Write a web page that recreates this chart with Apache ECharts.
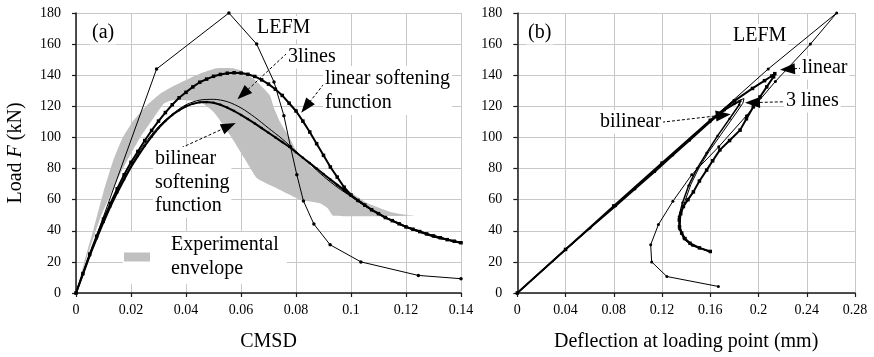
<!DOCTYPE html>
<html>
<head>
<meta charset="utf-8">
<script src="https://cdn.jsdelivr.net/npm/echarts@6/dist/echarts.min.js"></script>
<style>
  html, body { margin: 0; padding: 0; background: #fff; }
  #chart { width: 874px; height: 357px; }
</style>
</head>
<body>
<div id="chart"></div>
<script>
// ---- panel (a): load vs CMSD ----
const lefmAX = [0, 0.0293, 0.0556, 0.0657, 0.072, 0.0756, 0.078, 0.0803, 0.0827, 0.0865, 0.0924, 0.1036, 0.1245, 0.14];
const lefmAY = [0, 144, 180, 160, 135.7, 114, 94, 76, 59.2, 44.3, 31, 20, 11.3, 9.2];

const linAX = [0, 0.0025, 0.005, 0.0075, 0.01, 0.0125, 0.015, 0.0175, 0.02, 0.0225, 0.025, 0.0275, 0.03, 0.0325, 0.035, 0.0375,
  0.04, 0.0425, 0.045, 0.0475, 0.05, 0.0525, 0.055, 0.0575, 0.06, 0.0625, 0.065, 0.0675, 0.07, 0.0725, 0.075, 0.0775,
  0.08, 0.0825, 0.085, 0.0875, 0.09, 0.0925, 0.095, 0.0975, 0.1, 0.1025, 0.105, 0.1075, 0.11, 0.1125, 0.115, 0.1175,
  0.12, 0.1225, 0.125, 0.1275, 0.13, 0.1325, 0.135, 0.1375, 0.14];
const linAY = [0, 12.5, 25, 36.5, 47.5, 57.5, 67, 76, 84, 91, 98, 104.5, 110.5, 116, 121, 125.5,
  129, 132.5, 135.5, 137.5, 139.3, 140.5, 141.3, 141.6, 141.4, 140.6, 139.2, 137, 134.3, 131, 127, 122,
  117, 110.5, 103.5, 96, 88.5, 81, 74.5, 68, 63, 59.5, 56.5, 53.5, 51, 48.5, 46.5, 44.5,
  42.5, 41, 39.5, 38, 36.7, 35.5, 34.3, 33.3, 32.3];

const bilAX = linAX;
const bilAY = [0, 12, 24, 35, 45.5, 55.5, 64.5, 73, 81, 88, 94.5, 100.5, 106, 110.5, 114.5, 117.5,
  120, 121.7, 122.6, 122.8, 122.3, 121, 119.2, 117, 114.5, 111.8, 109, 106, 103, 100, 97, 94,
  90.5, 87, 83.5, 80, 76.5, 73, 69.5, 66, 62.7, 59.5, 56.5, 53.5, 51, 48.5, 46.5, 44.5,
  42.5, 41, 39.5, 38, 36.7, 35.5, 34.3, 33.3, 32.3];

const threeAX = [0, 0.005, 0.01, 0.015, 0.02, 0.025, 0.03, 0.035, 0.04, 0.045, 0.05, 0.055, 0.06, 0.065, 0.07,
  0.075, 0.08, 0.085, 0.09, 0.095, 0.1, 0.105, 0.11, 0.115, 0.12, 0.125, 0.13, 0.135, 0.14];
const threeAY = [0, 25, 46, 65, 82, 96, 107, 115, 121, 124, 124.5, 123, 119, 113, 106,
  99, 91, 83, 75, 68, 62, 56, 51, 46.5, 42.5, 39, 36, 34, 32];

// experimental envelope outline (upper edge then lower edge back to origin)
const envX = [0, 0.003, 0.0065, 0.01, 0.0135, 0.017, 0.021, 0.026, 0.031, 0.036, 0.04, 0.045, 0.051, 0.057, 0.06,
  0.0657, 0.0705, 0.072, 0.0742, 0.0778, 0.0803, 0.0863, 0.0924, 0.098, 0.103, 0.106, 0.114, 0.12, 0.1235,
  0.0936, 0.0915, 0.0887, 0.0815, 0.0717, 0.0657, 0.062, 0.056, 0.05, 0.045, 0.0356, 0.032, 0.0284,
  0.0235, 0.0187, 0.015, 0.009, 0.004, 0];
const envY = [0, 20, 42, 65, 85, 100, 111, 121, 128.5, 133.5, 137, 141, 144.5, 144.5, 143,
  136, 127, 119, 110, 99.4, 91, 80, 74, 67, 61, 57.7, 52.3, 50.3, 49.6,
  49.6, 54.5, 57.7, 60, 68.4, 74, 84.4, 101.5, 116.5, 123, 124, 121.8, 113,
  100.5, 85.5, 72.7, 49, 23, 0];

// ---- panel (b): load vs deflection ----
const lefmBX = [0, 0.208, 0.2648, 0.243, 0.214, 0.19, 0.167, 0.1446, 0.129, 0.117, 0.1106, 0.1114, 0.124, 0.1667];
const lefmBY = [0, 144, 180, 160, 136, 114, 94, 76, 59, 44, 31, 20, 10.6, 4.2];

const linBX = [0, 0.04, 0.08, 0.12, 0.16, 0.18, 0.195, 0.205, 0.211, 0.2135, 0.2125, 0.2068, 0.2012, 0.1957,
  0.19, 0.1847, 0.176, 0.168, 0.162, 0.157, 0.151, 0.146, 0.1415, 0.1377, 0.1355, 0.1343, 0.1345, 0.1363,
  0.139, 0.1432, 0.151, 0.16];
const linBY = [0, 28, 56, 83.5, 111, 123.5, 131.5, 136.5, 139.5, 141, 139, 132.5, 126, 119.7,
  112, 104.7, 98, 92, 85, 79, 72, 65, 60, 55.6, 51, 47, 42.5, 38.5,
  35, 32, 29, 26.7];

const bilBX = [0, 0.0402, 0.0603, 0.0818, 0.0976, 0.1142, 0.129, 0.143, 0.16, 0.172, 0.18, 0.185, 0.184, 0.176,
  0.166, 0.157, 0.149, 0.142, 0.137, 0.134, 0.1345, 0.138, 0.145, 0.16];
const bilBY = [0, 28.2, 41.7, 56, 66.7, 78, 88.5, 98, 110, 117.5, 121.5, 123.4, 121, 112,
  101, 90, 80, 69, 58, 49, 41, 35, 30.5, 26.5];

const threeBX = [0, 0.16, 0.175, 0.183, 0.188, 0.187, 0.179, 0.169, 0.159, 0.151, 0.144, 0.139, 0.1355, 0.135,
  0.1385, 0.146, 0.16];
const threeBY = [0, 110.5, 119.5, 123.5, 125, 122, 113, 102, 91, 81, 70, 59, 50, 42,
  35.5, 30.5, 26.5];

const SERIF = 'Liberation Serif';

function zip(xs, ys) { return xs.map((x, i) => [x, ys[i]]); }

function arrow(from, to) {
  return [
    { coord: from, symbol: 'none' },
    { coord: to, symbol: 'triangle', symbolSize: [11, 15] }
  ];
}

const chart = echarts.init(document.getElementById('chart'));

const gridLine = { show: true, lineStyle: { color: '#c8c8c8', width: 1 } };
const axisLine = { show: true, onZero: false, lineStyle: { color: '#1a1a1a', width: 1.5 } };
const axisTick = { show: true, inside: false, length: 4, lineStyle: { color: '#1a1a1a', width: 1.2 } };
const tickLabel = { color: '#000', fontFamily: SERIF, fontSize: 14 };

function xAxis(idx, max, interval, name) {
  return {
    type: 'value', gridIndex: idx, min: 0, max: max, interval: interval,
    name: name, nameLocation: 'middle', nameGap: 39,
    nameTextStyle: { color: '#000', fontFamily: SERIF, fontSize: 20 },
    axisLine: axisLine, axisTick: axisTick, splitLine: gridLine,
    axisLabel: Object.assign({ margin: 10 }, tickLabel)
  };
}
function yAxis(idx, name) {
  return {
    type: 'value', gridIndex: idx, min: 0, max: 180, interval: 20,
    name: name, nameLocation: 'middle', nameGap: 50,
    nameTextStyle: {
      color: '#000', fontFamily: SERIF, fontSize: 20,
      rich: { i: { fontStyle: 'italic', fontFamily: SERIF, fontSize: 20, color: '#000' } }
    },
    axisLine: axisLine, axisTick: axisTick, splitLine: gridLine,
    axisLabel: Object.assign({ margin: 15 }, tickLabel)
  };
}

const markArrows = (pairs) => ({
  silent: true,
  animation: false,
  label: { show: false },
  lineStyle: { color: '#000', width: 1, type: [3, 2] },
  emphasis: { disabled: true },
  data: pairs
});

const labelText = (x, y, text, lh) => ({
  type: 'text', left: x, top: y, z: 50,
  style: {
    text: text, fill: '#000', font: '20px "Liberation Serif"',
    lineHeight: lh || 23.5, backgroundColor: '#fff', padding: [0, 2, 0, 2]
  }
});

const option = {
  animation: false,
  backgroundColor: '#fff',
  grid: [
    { left: 76, top: 13, width: 385, height: 280.3 },
    { left: 517.3, top: 13, width: 337.7, height: 280.3 }
  ],
  xAxis: [xAxis(0, 0.14, 0.02, 'CMSD'), xAxis(1, 0.28, 0.04, 'Deflection at loading point (mm)')],
  yAxis: [yAxis(0, 'Load {i|F} (kN)'), yAxis(1, '')],
  legend: {
    data: [{ name: 'Experimental envelope', icon: 'rect' }],
    left: 123, top: 232,
    itemWidth: 26, itemHeight: 9,
    padding: [1, 8, 3, 1],
    backgroundColor: '#fff',
    selectedMode: false,
    formatter: () => 'Experimental\nenvelope',
    textStyle: { color: '#000', fontFamily: SERIF, fontSize: 20, lineHeight: 24, padding: [0, 0, 0, 16] }
  },
  graphic: [
    labelText(90, 21, '(a)'),
    labelText(255, 16, 'LEFM'),
    labelText(286, 45, '3lines'),
    labelText(323, 66, 'linear softening\nfunction', 24.5),
    labelText(153, 147, 'bilinear\nsoftening\nfunction'),
    labelText(526, 21, '(b)'),
    labelText(731, 24, 'LEFM'),
    labelText(800, 56, 'linear'),
    labelText(784, 89, '3 lines'),
    labelText(598, 110, 'bilinear')
  ],
  series: [
    {
      name: 'Experimental envelope', type: 'custom', xAxisIndex: 0, yAxisIndex: 0,
      data: zip(envX, envY), encode: { x: 0, y: 1 }, silent: true,
      itemStyle: { color: '#c0c0c0' },
      renderItem: function (params, api) {
        if (params.dataIndex !== 0) return null;
        const pts = envX.map((x, i) => api.coord([x, envY[i]]));
        return { type: 'polygon', shape: { points: pts, smooth: 0.15 }, style: { fill: '#c0c0c0' } };
      }
    },
    {
      name: 'LEFM (a)', type: 'line', xAxisIndex: 0, yAxisIndex: 0, data: zip(lefmAX, lefmAY),
      symbol: 'circle', symbolSize: 3.5, itemStyle: { color: '#000' },
      lineStyle: { color: '#000', width: 1 },
      markLine: markArrows([
        arrow([0.0766, 154], [0.0607, 127.8]),
        arrow([0.0912, 136.8], [0.0836, 119.7]),
        arrow([0.0366, 92], [0.0556, 107.3])
      ])
    },
    {
      name: 'linear (a)', type: 'line', xAxisIndex: 0, yAxisIndex: 0, data: zip(linAX, linAY),
      symbol: 'rect', symbolSize: 3.5, itemStyle: { color: '#000' },
      lineStyle: { color: '#000', width: 2 }
    },
    {
      name: 'bilinear (a)', type: 'line', xAxisIndex: 0, yAxisIndex: 0, data: zip(bilAX, bilAY),
      symbol: 'circle', symbolSize: 2.5, itemStyle: { color: '#000' },
      lineStyle: { color: '#000', width: 2 }
    },
    {
      name: '3lines (a)', type: 'line', xAxisIndex: 0, yAxisIndex: 0, data: zip(threeAX, threeAY),
      symbol: 'none', lineStyle: { color: '#000', width: 1 }, smooth: 0.3
    },
    {
      name: 'LEFM (b)', type: 'line', xAxisIndex: 1, yAxisIndex: 1, data: zip(lefmBX, lefmBY),
      symbol: 'circle', symbolSize: 3, itemStyle: { color: '#000' },
      lineStyle: { color: '#000', width: 1 },
      markLine: markArrows([
        arrow([0.236, 144.5], [0.224, 143.9]),
        arrow([0.2201, 122.9], [0.195, 122.4]),
        arrow([0.12, 109.8], [0.1708, 114.4])
      ])
    },
    {
      name: 'linear (b)', type: 'line', xAxisIndex: 1, yAxisIndex: 1, data: zip(linBX, linBY),
      symbol: 'rect', symbolSize: 3.5, itemStyle: { color: '#000' },
      lineStyle: { color: '#000', width: 2 }
    },
    {
      name: 'bilinear (b)', type: 'line', xAxisIndex: 1, yAxisIndex: 1, data: zip(bilBX, bilBY),
      symbol: 'circle', symbolSize: 2.5, itemStyle: { color: '#000' },
      lineStyle: { color: '#000', width: 1.5 }
    },
    {
      name: '3lines (b)', type: 'line', xAxisIndex: 1, yAxisIndex: 1, data: zip(threeBX, threeBY),
      symbol: 'none', lineStyle: { color: '#000', width: 1 }
    }
  ]
};

chart.setOption(option);
</script>
</body>
</html>
